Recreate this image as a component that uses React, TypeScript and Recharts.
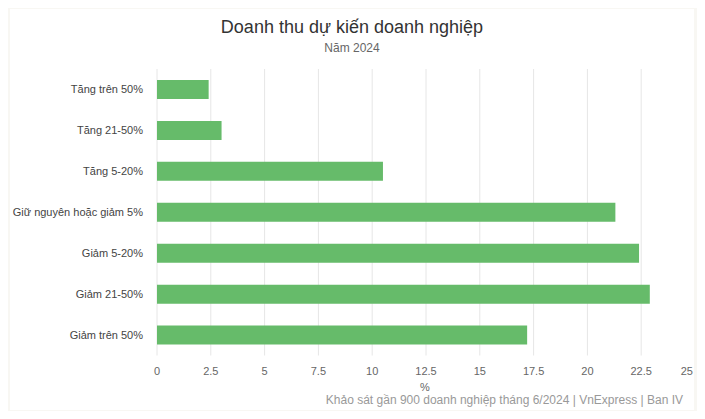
import React from "react";
import { BarChart, Bar, XAxis, YAxis, CartesianGrid } from "recharts";

const categories = [
  "Tăng trên 50%",
  "Tăng 21-50%",
  "Tăng 5-20%",
  "Giữ nguyên hoặc giảm 5%",
  "Giảm 5-20%",
  "Giảm 21-50%",
  "Giảm trên 50%",
];
const percents = [2.4, 3.0, 10.5, 21.3, 22.4, 22.9, 17.2];
const xTicks = [0, 2.5, 5, 7.5, 10, 12.5, 15, 17.5, 20, 22.5, 25];

const data = categories.map((name, i) => ({ name, value: percents[i] }));

const FONT = '"Liberation Sans", Arial, sans-serif';

function XTick(props: any) {
  const { x, y, payload, index } = props;
  const last = index === xTicks.length - 1;
  return (
    <text
      x={last ? 683 : x}
      y={y}
      dy={11}
      textAnchor={last ? "end" : "middle"}
      fontSize={11}
      fill="#666"
      fontFamily={FONT}
    >
      {payload.value}
    </text>
  );
}

function YTick(props: any) {
  const { x, y, payload } = props;
  return (
    <text x={x} y={y} dy="0.355em" textAnchor="end" fontSize={11} fill="#444" fontFamily={FONT}>
      {payload.value}
    </text>
  );
}

export default function App() {
  return (
    <div
      style={{
        position: "relative",
        width: 705,
        height: 419,
        margin: -8,
        background: "#f8f7f3",
        fontFamily: FONT,
        overflow: "hidden",
      }}
    >
      <div
        style={{
          position: "absolute",
          left: 10,
          top: 9,
          width: 684,
          height: 401,
          background: "#fff",
          overflow: "hidden",
        }}
      >
        <div style={{ position: "absolute", left: 0, width: 684, top: 8, textAlign: "center", fontSize: 18, color: "#333" }}>
          Doanh thu dự kiến doanh nghiệp
        </div>
        <div style={{ position: "absolute", left: 0, width: 684, top: 32, textAlign: "center", fontSize: 12, color: "#666" }}>
          Năm 2024
        </div>
        <BarChart
          width={685}
          height={401}
          layout="vertical"
          data={data}
          margin={{ top: 60, right: 0, left: 0, bottom: 0 }}
        >
          <CartesianGrid horizontal={false} stroke="#e6e6e6" />
          <XAxis
            type="number"
            domain={[0, 25]}
            ticks={xTicks}
            axisLine={false}
            tickLine={false}
            height={54.5}
            tick={<XTick />}
            interval={0}
          />
          <YAxis
            type="category"
            dataKey="name"
            width={147}
            axisLine={false}
            tickLine={false}
            tickMargin={8}
            interval={0}
            tick={<YTick />}
          />
          <Bar dataKey="value" fill="#66bb6a" barSize={19} isAnimationActive={false} />
        </BarChart>
        <div style={{ position: "absolute", left: 147, width: 536, top: 372, textAlign: "center", fontSize: 11, color: "#666" }}>
          %
        </div>
        <div style={{ position: "absolute", right: 11, top: 384, fontSize: 12, color: "#999", whiteSpace: "nowrap" }}>
          Khảo sát gần 900 doanh nghiệp tháng 6/2024 | VnExpress | Ban IV
        </div>
      </div>
    </div>
  );
}
